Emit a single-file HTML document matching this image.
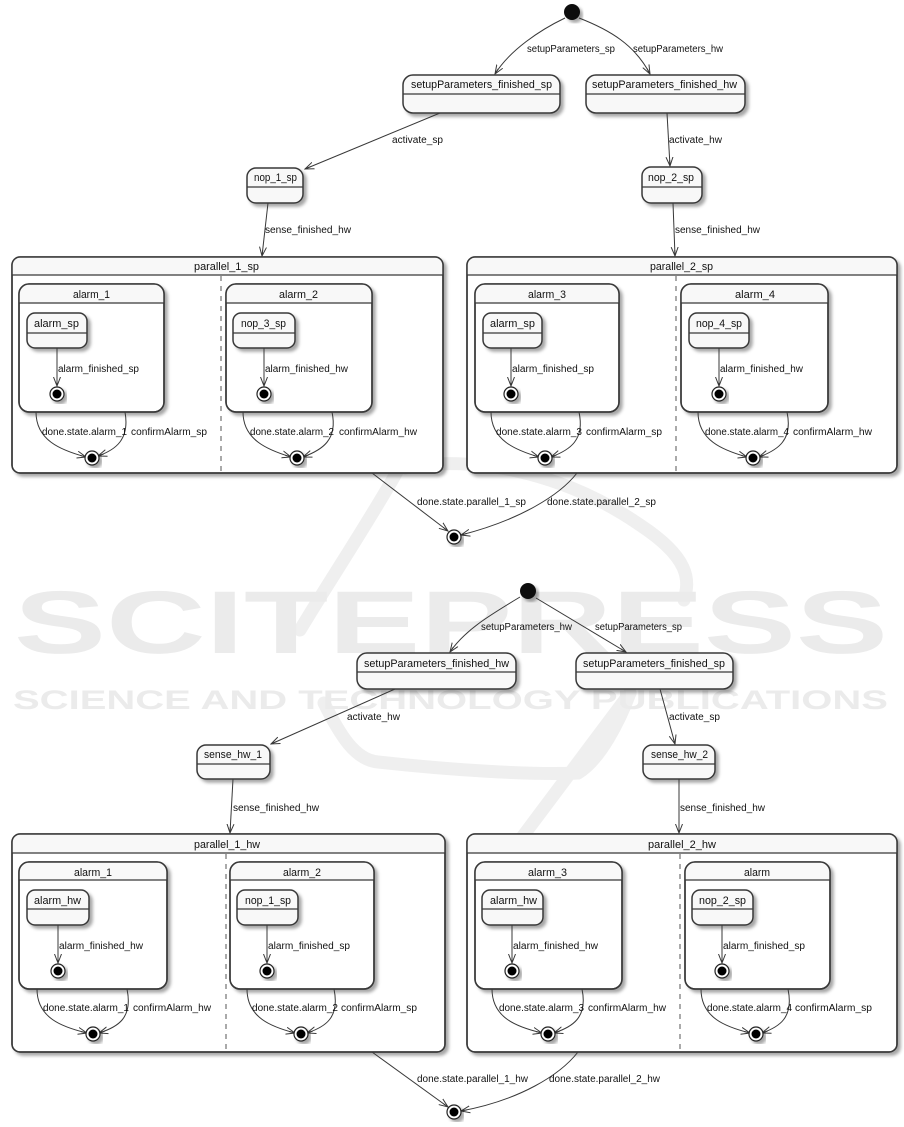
<!DOCTYPE html>
<html>
<head>
<meta charset="utf-8">
<style>
html,body{margin:0;padding:0;background:#fff;}
svg{display:block;}
text{font-family:"Liberation Sans",sans-serif;fill:#111;}
.n{font-size:11px;}
.l{font-size:10px;}
.b{fill:#f8f8f8;stroke:#383838;stroke-width:1.5;}
.w{fill:#ffffff;stroke:#383838;stroke-width:1.5;}
.o{fill:none;stroke:#383838;stroke-width:1.5;}
.h{stroke:#383838;stroke-width:1.2;}
.a{fill:none;stroke:#383838;stroke-width:1;marker-end:url(#ar);}
.d{stroke:#555;stroke-width:1;stroke-dasharray:5,5;}
</style>
</head>
<body>
<svg width="904" height="1127" viewBox="0 0 904 1127" xmlns="http://www.w3.org/2000/svg">
<defs>
<filter id="sh" x="-20%" y="-20%" width="140%" height="140%">
<feDropShadow dx="3" dy="3" stdDeviation="1.5" flood-color="#000" flood-opacity="0.35"/>
</filter>
<marker id="ar" markerWidth="10" markerHeight="9" refX="9" refY="4" orient="auto" markerUnits="userSpaceOnUse">
<path d="M0,0.5 L9,4 L0,7.5 M9,4 L3,4" fill="none" stroke="#383838" stroke-width="1"/>
</marker>
<g id="fin"><circle r="7" fill="#fff" stroke="#222" stroke-width="1.2" filter="url(#sh)"/><circle r="4.5" fill="#000"/></g>
</defs>
<rect width="904" height="1127" fill="#fff"/>

<!-- watermark -->
<g fill="none" stroke="#efefef" stroke-width="13" stroke-linecap="round">
<path d="M405,468 C470,455 560,470 640,525 C690,558 690,580 684,600"/>
<path d="M398,470 C370,520 330,580 300,630"/>
<path d="M324,703 C340,735 355,760 378,762 C450,770 530,775 578,773 C600,760 620,720 630,693"/>
<path d="M630,693 L520,840"/>
</g>
<text x="14" y="653" font-size="89" font-weight="bold" textLength="874" lengthAdjust="spacingAndGlyphs" style="fill:#ebebeb">SCITEPRESS</text>
<text x="13" y="709" font-size="27" font-weight="bold" textLength="875" lengthAdjust="spacingAndGlyphs" style="fill:#ebebeb">SCIENCE AND TECHNOLOGY PUBLICATIONS</text>

<!-- ================= TOP DIAGRAM ================= -->
<circle cx="572" cy="12" r="8" fill="#111" filter="url(#sh)"/>
<path class="a" d="M565,18 C540,30 510,50 495,74"/>
<path class="a" d="M579,18 C610,30 635,45 650,74"/>
<text class="l" x="527" y="52" textLength="88" lengthAdjust="spacingAndGlyphs">setupParameters_sp</text>
<text class="l" x="633" y="52" textLength="90" lengthAdjust="spacingAndGlyphs">setupParameters_hw</text>

<rect class="b" x="403" y="75" width="157" height="38" rx="10" filter="url(#sh)"/>
<line class="h" x1="403" y1="94" x2="560" y2="94"/>
<text class="n" x="411" y="88" textLength="141" lengthAdjust="spacingAndGlyphs">setupParameters_finished_sp</text>

<rect class="b" x="586" y="75" width="159" height="38" rx="10" filter="url(#sh)"/>
<line class="h" x1="586" y1="94" x2="745" y2="94"/>
<text class="n" x="592" y="88" textLength="145" lengthAdjust="spacingAndGlyphs">setupParameters_finished_hw</text>

<path class="a" d="M440,113 L305,169"/>
<text class="l" x="392" y="143" textLength="51" lengthAdjust="spacingAndGlyphs">activate_sp</text>
<path class="a" d="M667,113 L670,166"/>
<text class="l" x="669" y="143" textLength="53" lengthAdjust="spacingAndGlyphs">activate_hw</text>

<rect class="b" x="247" y="168" width="56" height="35" rx="9" filter="url(#sh)"/>
<line class="h" x1="247" y1="187" x2="303" y2="187"/>
<text class="n" x="254" y="181" textLength="43" lengthAdjust="spacingAndGlyphs">nop_1_sp</text>

<rect class="b" x="642" y="167" width="60" height="36" rx="9" filter="url(#sh)"/>
<line class="h" x1="642" y1="187" x2="702" y2="187"/>
<text class="n" x="648" y="181" textLength="46" lengthAdjust="spacingAndGlyphs">nop_2_sp</text>

<path class="a" d="M268,203 L262,256"/>
<text class="l" x="265" y="233" textLength="86" lengthAdjust="spacingAndGlyphs">sense_finished_hw</text>
<path class="a" d="M673,203 L675,256"/>
<text class="l" x="675" y="233" textLength="85" lengthAdjust="spacingAndGlyphs">sense_finished_hw</text>

<!-- parallel_1_sp -->
<rect class="w" x="12" y="257" width="431" height="216" rx="8" filter="url(#sh)"/>
<path d="M12,275 L12,265 Q12,257 20,257 L435,257 Q443,257 443,265 L443,275 Z" fill="#f8f8f8"/>
<rect class="o" x="12" y="257" width="431" height="216" rx="8"/>
<line class="h" x1="12" y1="275" x2="443" y2="275"/>
<text class="n" x="194" y="270" textLength="65" lengthAdjust="spacingAndGlyphs">parallel_1_sp</text>
<line class="d" x1="221" y1="276" x2="221" y2="473"/>

<rect class="w" x="19" y="284" width="145" height="128" rx="10" filter="url(#sh)"/>
<path d="M19,303 L19,294 Q19,284 29,284 L154,284 Q164,284 164,294 L164,303 Z" fill="#f8f8f8"/>
<rect class="o" x="19" y="284" width="145" height="128" rx="10"/>
<line class="h" x1="19" y1="303" x2="164" y2="303"/>
<text class="n" x="73" y="298" textLength="37" lengthAdjust="spacingAndGlyphs">alarm_1</text>
<rect class="b" x="27" y="313" width="60" height="35" rx="8" filter="url(#sh)"/>
<line class="h" x1="27" y1="333" x2="87" y2="333"/>
<text class="n" x="34" y="327" textLength="45" lengthAdjust="spacingAndGlyphs">alarm_sp</text>
<path class="a" d="M57,348 L57,386"/>
<text class="l" x="58" y="372" textLength="81" lengthAdjust="spacingAndGlyphs">alarm_finished_sp</text>
<use href="#fin" x="57" y="394"/>
<path class="a" d="M36,412 C36,440 60,450 86,457"/>
<path class="a" d="M125,412 C130,440 115,450 98,456"/>
<text class="l" x="42" y="435" textLength="85" lengthAdjust="spacingAndGlyphs">done.state.alarm_1</text>
<text class="l" x="131" y="435" textLength="76" lengthAdjust="spacingAndGlyphs">confirmAlarm_sp</text>
<use href="#fin" x="92" y="458"/>

<rect class="w" x="226" y="284" width="146" height="128" rx="10" filter="url(#sh)"/>
<path d="M226,303 L226,294 Q226,284 236,284 L362,284 Q372,284 372,294 L372,303 Z" fill="#f8f8f8"/>
<rect class="o" x="226" y="284" width="146" height="128" rx="10"/>
<line class="h" x1="226" y1="303" x2="372" y2="303"/>
<text class="n" x="279" y="298" textLength="39" lengthAdjust="spacingAndGlyphs">alarm_2</text>
<rect class="b" x="233" y="313" width="62" height="35" rx="8" filter="url(#sh)"/>
<line class="h" x1="233" y1="333" x2="295" y2="333"/>
<text class="n" x="241" y="327" textLength="45" lengthAdjust="spacingAndGlyphs">nop_3_sp</text>
<path class="a" d="M264,348 L264,386"/>
<text class="l" x="265" y="372" textLength="83" lengthAdjust="spacingAndGlyphs">alarm_finished_hw</text>
<use href="#fin" x="264" y="394"/>
<path class="a" d="M243,412 C243,440 268,450 291,457"/>
<path class="a" d="M332,412 C338,440 322,450 303,457"/>
<text class="l" x="250" y="435" textLength="84" lengthAdjust="spacingAndGlyphs">done.state.alarm_2</text>
<text class="l" x="339" y="435" textLength="78" lengthAdjust="spacingAndGlyphs">confirmAlarm_hw</text>
<use href="#fin" x="297" y="458"/>

<!-- parallel_2_sp -->
<rect class="w" x="467" y="257" width="430" height="216" rx="8" filter="url(#sh)"/>
<path d="M467,275 L467,265 Q467,257 475,257 L889,257 Q897,257 897,265 L897,275 Z" fill="#f8f8f8"/>
<rect class="o" x="467" y="257" width="430" height="216" rx="8"/>
<line class="h" x1="467" y1="275" x2="897" y2="275"/>
<text class="n" x="650" y="270" textLength="63" lengthAdjust="spacingAndGlyphs">parallel_2_sp</text>
<line class="d" x1="676" y1="276" x2="676" y2="473"/>

<rect class="w" x="475" y="284" width="144" height="128" rx="10" filter="url(#sh)"/>
<path d="M475,303 L475,294 Q475,284 485,284 L609,284 Q619,284 619,294 L619,303 Z" fill="#f8f8f8"/>
<rect class="o" x="475" y="284" width="144" height="128" rx="10"/>
<line class="h" x1="475" y1="303" x2="619" y2="303"/>
<text class="n" x="528" y="298" textLength="38" lengthAdjust="spacingAndGlyphs">alarm_3</text>
<rect class="b" x="483" y="313" width="59" height="35" rx="8" filter="url(#sh)"/>
<line class="h" x1="483" y1="333" x2="542" y2="333"/>
<text class="n" x="490" y="327" textLength="45" lengthAdjust="spacingAndGlyphs">alarm_sp</text>
<path class="a" d="M511,348 L511,386"/>
<text class="l" x="512" y="372" textLength="82" lengthAdjust="spacingAndGlyphs">alarm_finished_sp</text>
<use href="#fin" x="511" y="394"/>
<path class="a" d="M491,412 C491,440 515,450 539,457"/>
<path class="a" d="M579,412 C585,440 570,450 551,457"/>
<text class="l" x="496" y="435" textLength="86" lengthAdjust="spacingAndGlyphs">done.state.alarm_3</text>
<text class="l" x="586" y="435" textLength="76" lengthAdjust="spacingAndGlyphs">confirmAlarm_sp</text>
<use href="#fin" x="545" y="458"/>

<rect class="w" x="681" y="284" width="147" height="128" rx="10" filter="url(#sh)"/>
<path d="M681,303 L681,294 Q681,284 691,284 L818,284 Q828,284 828,294 L828,303 Z" fill="#f8f8f8"/>
<rect class="o" x="681" y="284" width="147" height="128" rx="10"/>
<line class="h" x1="681" y1="303" x2="828" y2="303"/>
<text class="n" x="735" y="298" textLength="40" lengthAdjust="spacingAndGlyphs">alarm_4</text>
<rect class="b" x="689" y="313" width="60" height="35" rx="8" filter="url(#sh)"/>
<line class="h" x1="689" y1="333" x2="749" y2="333"/>
<text class="n" x="696" y="327" textLength="46" lengthAdjust="spacingAndGlyphs">nop_4_sp</text>
<path class="a" d="M719,348 L719,386"/>
<text class="l" x="720" y="372" textLength="83" lengthAdjust="spacingAndGlyphs">alarm_finished_hw</text>
<use href="#fin" x="719" y="394"/>
<path class="a" d="M698,412 C698,440 722,450 747,457"/>
<path class="a" d="M787,412 C793,440 778,450 759,457"/>
<text class="l" x="705" y="435" textLength="84" lengthAdjust="spacingAndGlyphs">done.state.alarm_4</text>
<text class="l" x="793" y="435" textLength="79" lengthAdjust="spacingAndGlyphs">confirmAlarm_hw</text>
<use href="#fin" x="753" y="458"/>

<!-- top end -->
<path class="a" d="M372,473 L448,531"/>
<path class="a" d="M577,473 C560,495 520,520 461,535"/>
<text class="l" x="417" y="505" textLength="109" lengthAdjust="spacingAndGlyphs">done.state.parallel_1_sp</text>
<text class="l" x="547" y="505" textLength="109" lengthAdjust="spacingAndGlyphs">done.state.parallel_2_sp</text>
<use href="#fin" x="454" y="537"/>

<!-- ================= BOTTOM DIAGRAM ================= -->
<circle cx="528" cy="591" r="8" fill="#111" filter="url(#sh)"/>
<path class="a" d="M520,597 C490,615 465,630 450,652"/>
<path class="a" d="M536,598 L626,652"/>
<text class="l" x="481" y="630" textLength="91" lengthAdjust="spacingAndGlyphs">setupParameters_hw</text>
<text class="l" x="595" y="630" textLength="87" lengthAdjust="spacingAndGlyphs">setupParameters_sp</text>

<rect class="b" x="357" y="653" width="159" height="36" rx="10" filter="url(#sh)"/>
<line class="h" x1="357" y1="672" x2="516" y2="672"/>
<text class="n" x="364" y="667" textLength="145" lengthAdjust="spacingAndGlyphs">setupParameters_finished_hw</text>

<rect class="b" x="576" y="653" width="157" height="36" rx="10" filter="url(#sh)"/>
<line class="h" x1="576" y1="672" x2="733" y2="672"/>
<text class="n" x="583" y="667" textLength="142" lengthAdjust="spacingAndGlyphs">setupParameters_finished_sp</text>

<path class="a" d="M395,689 L271,744"/>
<text class="l" x="347" y="720" textLength="53" lengthAdjust="spacingAndGlyphs">activate_hw</text>
<path class="a" d="M660,689 L675,744"/>
<text class="l" x="669" y="720" textLength="51" lengthAdjust="spacingAndGlyphs">activate_sp</text>

<rect class="b" x="197" y="745" width="73" height="34" rx="9" filter="url(#sh)"/>
<line class="h" x1="197" y1="764" x2="270" y2="764"/>
<text class="n" x="204" y="758" textLength="58" lengthAdjust="spacingAndGlyphs">sense_hw_1</text>

<rect class="b" x="643" y="745" width="72" height="34" rx="9" filter="url(#sh)"/>
<line class="h" x1="643" y1="764" x2="715" y2="764"/>
<text class="n" x="651" y="758" textLength="57" lengthAdjust="spacingAndGlyphs">sense_hw_2</text>

<path class="a" d="M233,779 L230,833"/>
<text class="l" x="233" y="811" textLength="86" lengthAdjust="spacingAndGlyphs">sense_finished_hw</text>
<path class="a" d="M679,779 L679,833"/>
<text class="l" x="680" y="811" textLength="85" lengthAdjust="spacingAndGlyphs">sense_finished_hw</text>

<!-- parallel_1_hw -->
<rect class="w" x="12" y="834" width="433" height="218" rx="8" filter="url(#sh)"/>
<path d="M12,853 L12,842 Q12,834 20,834 L437,834 Q445,834 445,842 L445,853 Z" fill="#f8f8f8"/>
<rect class="o" x="12" y="834" width="433" height="218" rx="8"/>
<line class="h" x1="12" y1="853" x2="445" y2="853"/>
<text class="n" x="194" y="848" textLength="66" lengthAdjust="spacingAndGlyphs">parallel_1_hw</text>
<line class="d" x1="226" y1="854" x2="226" y2="1052"/>

<rect class="w" x="19" y="862" width="148" height="127" rx="10" filter="url(#sh)"/>
<path d="M19,880 L19,872 Q19,862 29,862 L157,862 Q167,862 167,872 L167,880 Z" fill="#f8f8f8"/>
<rect class="o" x="19" y="862" width="148" height="127" rx="10"/>
<line class="h" x1="19" y1="880" x2="167" y2="880"/>
<text class="n" x="74" y="876" textLength="38" lengthAdjust="spacingAndGlyphs">alarm_1</text>
<rect class="b" x="27" y="890" width="62" height="35" rx="8" filter="url(#sh)"/>
<line class="h" x1="27" y1="909" x2="89" y2="909"/>
<text class="n" x="34" y="904" textLength="47" lengthAdjust="spacingAndGlyphs">alarm_hw</text>
<path class="a" d="M58,925 L58,963"/>
<text class="l" x="59" y="949" textLength="84" lengthAdjust="spacingAndGlyphs">alarm_finished_hw</text>
<use href="#fin" x="58" y="971"/>
<path class="a" d="M37,989 C37,1018 62,1027 87,1033"/>
<path class="a" d="M127,989 C133,1018 118,1027 99,1033"/>
<text class="l" x="43" y="1011" textLength="86" lengthAdjust="spacingAndGlyphs">done.state.alarm_1</text>
<text class="l" x="133" y="1011" textLength="78" lengthAdjust="spacingAndGlyphs">confirmAlarm_hw</text>
<use href="#fin" x="93" y="1034"/>

<rect class="w" x="230" y="862" width="144" height="127" rx="10" filter="url(#sh)"/>
<path d="M230,880 L230,872 Q230,862 240,862 L364,862 Q374,862 374,872 L374,880 Z" fill="#f8f8f8"/>
<rect class="o" x="230" y="862" width="144" height="127" rx="10"/>
<line class="h" x1="230" y1="880" x2="374" y2="880"/>
<text class="n" x="283" y="876" textLength="38" lengthAdjust="spacingAndGlyphs">alarm_2</text>
<rect class="b" x="237" y="890" width="61" height="35" rx="8" filter="url(#sh)"/>
<line class="h" x1="237" y1="909" x2="298" y2="909"/>
<text class="n" x="245" y="904" textLength="46" lengthAdjust="spacingAndGlyphs">nop_1_sp</text>
<path class="a" d="M267,925 L267,963"/>
<text class="l" x="268" y="949" textLength="82" lengthAdjust="spacingAndGlyphs">alarm_finished_sp</text>
<use href="#fin" x="267" y="971"/>
<path class="a" d="M247,989 C247,1018 272,1027 295,1033"/>
<path class="a" d="M334,989 C340,1018 325,1027 307,1033"/>
<text class="l" x="252" y="1011" textLength="86" lengthAdjust="spacingAndGlyphs">done.state.alarm_2</text>
<text class="l" x="341" y="1011" textLength="76" lengthAdjust="spacingAndGlyphs">confirmAlarm_sp</text>
<use href="#fin" x="301" y="1034"/>

<!-- parallel_2_hw -->
<rect class="w" x="467" y="834" width="430" height="218" rx="8" filter="url(#sh)"/>
<path d="M467,853 L467,842 Q467,834 475,834 L889,834 Q897,834 897,842 L897,853 Z" fill="#f8f8f8"/>
<rect class="o" x="467" y="834" width="430" height="218" rx="8"/>
<line class="h" x1="467" y1="853" x2="897" y2="853"/>
<text class="n" x="648" y="848" textLength="68" lengthAdjust="spacingAndGlyphs">parallel_2_hw</text>
<line class="d" x1="680" y1="854" x2="680" y2="1052"/>

<rect class="w" x="475" y="862" width="147" height="127" rx="10" filter="url(#sh)"/>
<path d="M475,880 L475,872 Q475,862 485,862 L612,862 Q622,862 622,872 L622,880 Z" fill="#f8f8f8"/>
<rect class="o" x="475" y="862" width="147" height="127" rx="10"/>
<line class="h" x1="475" y1="880" x2="622" y2="880"/>
<text class="n" x="528" y="876" textLength="39" lengthAdjust="spacingAndGlyphs">alarm_3</text>
<rect class="b" x="482" y="890" width="61" height="35" rx="8" filter="url(#sh)"/>
<line class="h" x1="482" y1="909" x2="543" y2="909"/>
<text class="n" x="490" y="904" textLength="47" lengthAdjust="spacingAndGlyphs">alarm_hw</text>
<path class="a" d="M512,925 L512,963"/>
<text class="l" x="513" y="949" textLength="85" lengthAdjust="spacingAndGlyphs">alarm_finished_hw</text>
<use href="#fin" x="512" y="971"/>
<path class="a" d="M492,989 C492,1018 517,1027 542,1033"/>
<path class="a" d="M582,989 C588,1018 572,1027 554,1033"/>
<text class="l" x="499" y="1011" textLength="85" lengthAdjust="spacingAndGlyphs">done.state.alarm_3</text>
<text class="l" x="588" y="1011" textLength="78" lengthAdjust="spacingAndGlyphs">confirmAlarm_hw</text>
<use href="#fin" x="548" y="1034"/>

<rect class="w" x="685" y="862" width="145" height="127" rx="10" filter="url(#sh)"/>
<path d="M685,880 L685,872 Q685,862 695,862 L820,862 Q830,862 830,872 L830,880 Z" fill="#f8f8f8"/>
<rect class="o" x="685" y="862" width="145" height="127" rx="10"/>
<line class="h" x1="685" y1="880" x2="830" y2="880"/>
<text class="n" x="744" y="876" textLength="26" lengthAdjust="spacingAndGlyphs">alarm</text>
<rect class="b" x="692" y="890" width="61" height="35" rx="8" filter="url(#sh)"/>
<line class="h" x1="692" y1="909" x2="753" y2="909"/>
<text class="n" x="699" y="904" textLength="47" lengthAdjust="spacingAndGlyphs">nop_2_sp</text>
<path class="a" d="M722,925 L722,963"/>
<text class="l" x="723" y="949" textLength="82" lengthAdjust="spacingAndGlyphs">alarm_finished_sp</text>
<use href="#fin" x="722" y="971"/>
<path class="a" d="M701,989 C701,1018 726,1027 750,1033"/>
<path class="a" d="M788,989 C794,1018 779,1027 762,1033"/>
<text class="l" x="707" y="1011" textLength="85" lengthAdjust="spacingAndGlyphs">done.state.alarm_4</text>
<text class="l" x="795" y="1011" textLength="77" lengthAdjust="spacingAndGlyphs">confirmAlarm_sp</text>
<use href="#fin" x="756" y="1034"/>

<!-- bottom end -->
<path class="a" d="M372,1052 L448,1107"/>
<path class="a" d="M578,1052 C560,1075 520,1100 461,1111"/>
<text class="l" x="417" y="1082" textLength="111" lengthAdjust="spacingAndGlyphs">done.state.parallel_1_hw</text>
<text class="l" x="549" y="1082" textLength="111" lengthAdjust="spacingAndGlyphs">done.state.parallel_2_hw</text>
<use href="#fin" x="454" y="1112"/>
</svg>
</body>
</html>
